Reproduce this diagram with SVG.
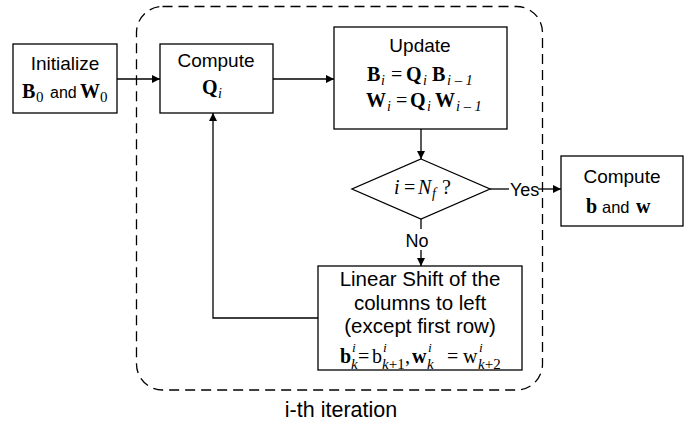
<svg xmlns="http://www.w3.org/2000/svg" width="699" height="424" viewBox="0 0 699 424">
  <defs>
    <marker id="arrow" viewBox="0 0 10 10" refX="10" refY="5" markerWidth="10" markerHeight="8" markerUnits="userSpaceOnUse" orient="auto">
      <path d="M0,0 L10,5 L0,10 Z" fill="#000"/>
    </marker>
    <style>
      .box { fill: #fff; stroke: #000; stroke-width: 1.3; }
      .frame { fill: none; stroke: #000; stroke-width: 1.3; stroke-dasharray: 10 6; }
      .edge { fill: none; stroke: #000; stroke-width: 1.3; }
      .lbl { font-family: "Liberation Sans", Arial, sans-serif; font-size: 19px; fill: #000; text-anchor: middle; }
      .sans { font-family: "Liberation Sans", Arial, sans-serif; fill: #000; }
      .m { font-family: "Liberation Serif", "Times New Roman", serif; fill: #000; }
      .mb { font-family: "Liberation Serif", "Times New Roman", serif; font-weight: bold; fill: #000; }
      .mi { font-family: "Liberation Serif", "Times New Roman", serif; font-style: italic; fill: #000; }
    </style>
  </defs>

  <!-- iteration frame -->
  <g id="iteration">
    <rect class="frame" x="136.5" y="6.5" width="406" height="383.5" rx="26" ry="26"/>
    <text class="lbl" x="341" y="417" style="font-size:21.5px">i-th iteration</text>
  </g>

  <!-- connectors -->
  <g id="connectors">
    <line class="edge" x1="117" y1="79" x2="160" y2="79" marker-end="url(#arrow)"/>
    <line class="edge" x1="273" y1="79" x2="334" y2="79" marker-end="url(#arrow)"/>
    <line class="edge" x1="421" y1="129" x2="421" y2="159" marker-end="url(#arrow)"/>
    <line class="edge" x1="490" y1="189" x2="509" y2="189"/>
    <line class="edge" x1="538" y1="189" x2="561" y2="189" marker-end="url(#arrow)"/>
    <text class="sans" x="510" y="195.5" font-size="18">Yes</text>
    <line class="edge" x1="421" y1="219" x2="421" y2="229"/>
    <line class="edge" x1="421" y1="250" x2="421" y2="266" marker-end="url(#arrow)"/>
    <text class="sans" x="417" y="247" font-size="18" text-anchor="middle">No</text>
    <polyline class="edge" points="318,318 213,318 213,113" marker-end="url(#arrow)"/>
  </g>

  <!-- initialization -->
  <g id="init">
    <rect class="box" x="13" y="44" width="104" height="69"/>
    <text class="lbl" x="65" y="70">Initialize</text>
    <text class="mb" x="22" y="98" font-size="20">B</text>
    <text class="m" x="36" y="102" font-size="15">0</text>
    <text class="sans" x="50" y="98" font-size="16">and</text>
    <text class="mb" x="80" y="98" font-size="20">W</text>
    <text class="m" x="100" y="102" font-size="15">0</text>
  </g>

  <!-- compute Q_i -->
  <g id="computeQ">
    <rect class="box" x="160" y="44" width="113" height="69"/>
    <text class="lbl" x="216" y="67">Compute</text>
    <text class="mb" x="202" y="94" font-size="20">Q</text>
    <text class="mi" x="218" y="98" font-size="14">i</text>
  </g>

  <!-- update B and W -->
  <g id="update">
    <rect class="box" x="334" y="27" width="173" height="102"/>
    <text class="lbl" x="420" y="52">Update</text>
    <text class="mb" x="367" y="81" font-size="20">B</text>
    <text class="mi" x="381" y="85" font-size="14">i</text>
    <text class="m" x="391" y="81" font-size="20">=</text>
    <text class="mb" x="406" y="81" font-size="20">Q</text>
    <text class="mi" x="423" y="85" font-size="14">i</text>
    <text class="mb" x="432" y="81" font-size="20">B</text>
    <text class="mi" x="447" y="85" font-size="14.5" xml:space="preserve">i – 1</text>
    <text class="mb" x="366" y="107" font-size="20">W</text>
    <text class="mi" x="387" y="111" font-size="14">i</text>
    <text class="m" x="396" y="107" font-size="20">=</text>
    <text class="mb" x="410" y="107" font-size="20">Q</text>
    <text class="mi" x="427" y="111" font-size="14">i</text>
    <text class="mb" x="435" y="107" font-size="20">W</text>
    <text class="mi" x="456" y="111" font-size="14.5" xml:space="preserve">i – 1</text>
  </g>

  <!-- termination test -->
  <g id="decision">
    <polygon class="box" points="421,159 490,189 421,219 352,189"/>
    <text class="mi" x="394" y="194" font-size="20">i</text>
    <text class="m" x="404" y="194" font-size="20">=</text>
    <text class="mi" x="418" y="194" font-size="20">N</text>
    <text class="mi" x="432" y="198" font-size="14">f</text>
    <text class="m" x="442" y="194" font-size="20">?</text>
  </g>

  <!-- final result -->
  <g id="computeBW">
    <rect class="box" x="561" y="156" width="122" height="70"/>
    <text class="lbl" x="622" y="183">Compute</text>
    <text class="mb" x="586" y="213" font-size="20">b</text>
    <text class="sans" x="602" y="213" font-size="16.5">and</text>
    <text class="mb" x="636" y="213" font-size="20">w</text>
  </g>

  <!-- column shift -->
  <g id="shift">
    <rect class="box" x="318" y="266" width="204" height="104"/>
    <text class="lbl" x="420" y="286" style="font-size:20.5px">Linear Shift of the</text>
    <text class="lbl" x="420" y="310" style="font-size:20.5px">columns to left</text>
    <text class="lbl" x="420" y="333" style="font-size:20.5px">(except first row)</text>
    <text class="mb" x="340" y="363" font-size="20">b</text>
    <text class="mi" x="352" y="352" font-size="13.5">i</text>
    <text class="mi" x="351" y="368.5" font-size="15">k</text>
    <text class="m" x="358" y="363" font-size="20">=</text>
    <text class="m" x="372" y="363" font-size="20">b</text>
    <text class="mi" x="383" y="352" font-size="13.5">i</text>
    <text class="m" x="382" y="368.5" font-size="15"><tspan class="mi">k</tspan>+1</text>
    <text class="m" x="405" y="363" font-size="20">,</text>
    <text class="mb" x="412" y="363" font-size="20">w</text>
    <text class="mi" x="428" y="352" font-size="13.5">i</text>
    <text class="mi" x="427" y="368.5" font-size="15">k</text>
    <text class="m" x="447" y="363" font-size="20">=</text>
    <text class="m" x="463" y="363" font-size="20">w</text>
    <text class="mi" x="479" y="352" font-size="13.5">i</text>
    <text class="m" x="478" y="368.5" font-size="15"><tspan class="mi">k</tspan>+2</text>
  </g>
</svg>
